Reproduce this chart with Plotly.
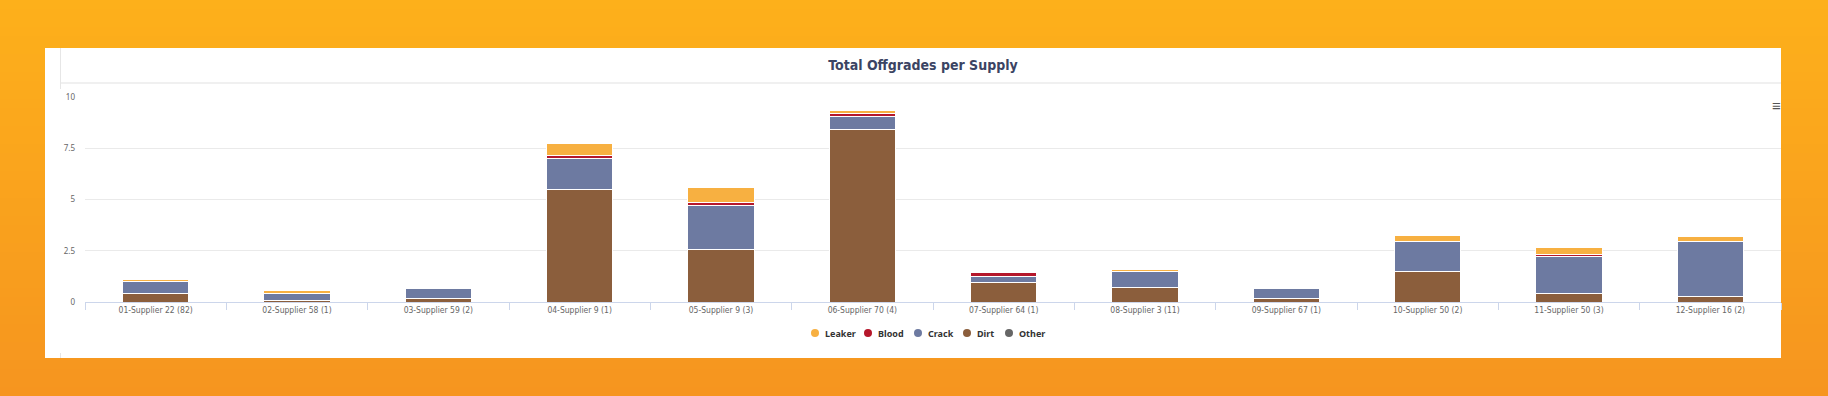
import plotly.graph_objects as go

categories = ["01-Supplier 22 (82)", "02-Supplier 58 (1)", "03-Supplier 59 (2)",
              "04-Supplier 9 (1)", "05-Supplier 9 (3)", "06-Supplier 70 (4)",
              "07-Supplier 64 (1)", "08-Supplier 3 (11)", "09-Supplier 67 (1)",
              "10-Supplier 50 (2)", "11-Supplier 50 (3)", "12-Supplier 16 (2)"]
leaker = [0.08, 0.15, 0.08, 0.6, 0.75, 0.15, 0, 0.08, 0, 0.3, 0.35, 0.25]
blood = [0, 0, 0, 0.15, 0.13, 0.15, 0.2, 0, 0, 0, 0.1, 0]
crack = [0.6, 0.35, 0.5, 1.5, 2.15, 0.65, 0.3, 0.8, 0.5, 1.45, 1.8, 2.7]
dirt = [0.4, 0.05, 0.15, 5.5, 2.55, 8.4, 0.95, 0.7, 0.15, 1.5, 0.4, 0.25]
other = [0, 0, 0, 0, 0, 0, 0, 0, 0, 0, 0, 0]
ytick_vals = [0, 2.5, 5, 7.5, 10]
ytick_text = ["0", "2.5", "5", "7.5", "10"]
legend_names = ["Leaker", "Blood", "Crack", "Dirt", "Other"]

W, H = 1828, 396
L, R, T, B = 85, 47, 97, 94
PW, PH = W - L - R, H - T - B

def px(x):
    return (x - L) / PW

def py(y):
    return (H - B - y) / PH

colors = {"Leaker": "#F7B041", "Blood": "#B5172B", "Crack": "#6D7AA1",
          "Dirt": "#8B5E3C", "Other": "#666666"}
stack = [("Other", other), ("Dirt", dirt), ("Crack", crack),
         ("Blood", blood), ("Leaker", leaker)]

fig = go.Figure()
for name, vals in stack:
    fig.add_trace(go.Bar(x=categories, y=vals, name=name, marker_color=colors[name],
                         marker_line_color="white", marker_line_width=1))

shapes = []
# background gradient bands
c0 = (0xFD, 0xB0, 0x1B)
c1 = (0xF6, 0x95, 0x1F)
N = 44
for i in range(N):
    t = i / (N - 1)
    c = tuple(round(a + (b - a) * t) for a, b in zip(c0, c1))
    y0 = H * i / N
    y1 = H * (i + 1) / N + 1
    shapes.append(dict(type="rect", xref="paper", yref="paper", layer="below",
                       x0=px(0), x1=px(W), y0=py(y0), y1=py(y1),
                       fillcolor="rgb(%d,%d,%d)" % c, line_width=0))
# white card
shapes.append(dict(type="rect", xref="paper", yref="paper", layer="below",
                   x0=px(45), x1=px(1781), y0=py(48), y1=py(358),
                   fillcolor="white", line_width=0))
shapes.append(dict(type="line", xref="paper", yref="paper", layer="below",
                   x0=px(60), x1=px(1781), y0=py(83), y1=py(83),
                   line=dict(color="#ebebeb", width=1.5)))
shapes.append(dict(type="line", xref="paper", yref="paper", layer="below",
                   x0=px(60.5), x1=px(60.5), y0=py(48), y1=py(89),
                   line=dict(color="#e6e6e6", width=1)))
shapes.append(dict(type="line", xref="paper", yref="paper", layer="below",
                   x0=px(60.5), x1=px(60.5), y0=py(353), y1=py(358),
                   line=dict(color="#e6e6e6", width=1)))

# legend (circle symbols + bold labels)
legend_x = [815, 868, 918, 967, 1009]
legend_y = 333
annotations = []
for name, lx in zip(legend_names, legend_x):
    shapes.append(dict(type="circle", xref="paper", yref="paper",
                       xsizemode="pixel", ysizemode="pixel",
                       xanchor=px(lx), yanchor=py(legend_y),
                       x0=-4, x1=4, y0=-4, y1=4,
                       fillcolor=colors[name], line_width=0))
    annotations.append(dict(text="<b>%s</b>" % name, xref="paper", yref="paper",
                            x=px(lx + 8), y=py(legend_y), xanchor="left", yanchor="middle",
                            showarrow=False,
                            font=dict(family="Noto Sans, sans-serif", size=9, color="#333333")))

annotations.append(dict(text="<b>≡</b>", xref="paper", yref="paper", x=px(1776), y=py(105),
                        showarrow=False, font=dict(size=15, color="#555555"),
                        xanchor="center", yanchor="middle"))

fig.update_layout(
    width=W, height=H,
    margin=dict(l=L, r=R, t=T, b=B, pad=0),
    paper_bgcolor="#FAA31D",
    plot_bgcolor="rgba(0,0,0,0)",
    barmode="stack",
    bargap=0.53,
    shapes=shapes,
    annotations=annotations,
    showlegend=False,
    title=dict(text="<b>Total Offgrades per Supply</b>", x=923 / W, xanchor="center",
               y=1 - 65 / H, yanchor="middle",
               font=dict(family="DejaVu Sans Condensed, sans-serif",
                         size=14, color="#3B4463")),
)
fig.update_xaxes(showgrid=False, showline=True, linecolor="#ccd6eb", linewidth=1,
                 ticks="outside", tickson="boundaries", ticklen=7, tickcolor="#ccd6eb",
                 tickfont=dict(family="DejaVu Sans Condensed, sans-serif", size=8.5, color="#666666"),
                 fixedrange=True)
fig.update_yaxes(range=[0, 10], tickvals=ytick_vals, ticktext=ytick_text,
                 showgrid=True, gridcolor="#eaeaea", gridwidth=1, zeroline=False,
                 showline=False, ticks="", ticklabelstandoff=9,
                 tickfont=dict(family="Noto Sans, sans-serif", size=8, color="#666666"),
                 fixedrange=True)

fig.write_html("out.html", config=dict(displayModeBar=False),
               post_script="document.body.style.margin='0';document.body.style.overflow='hidden';")
